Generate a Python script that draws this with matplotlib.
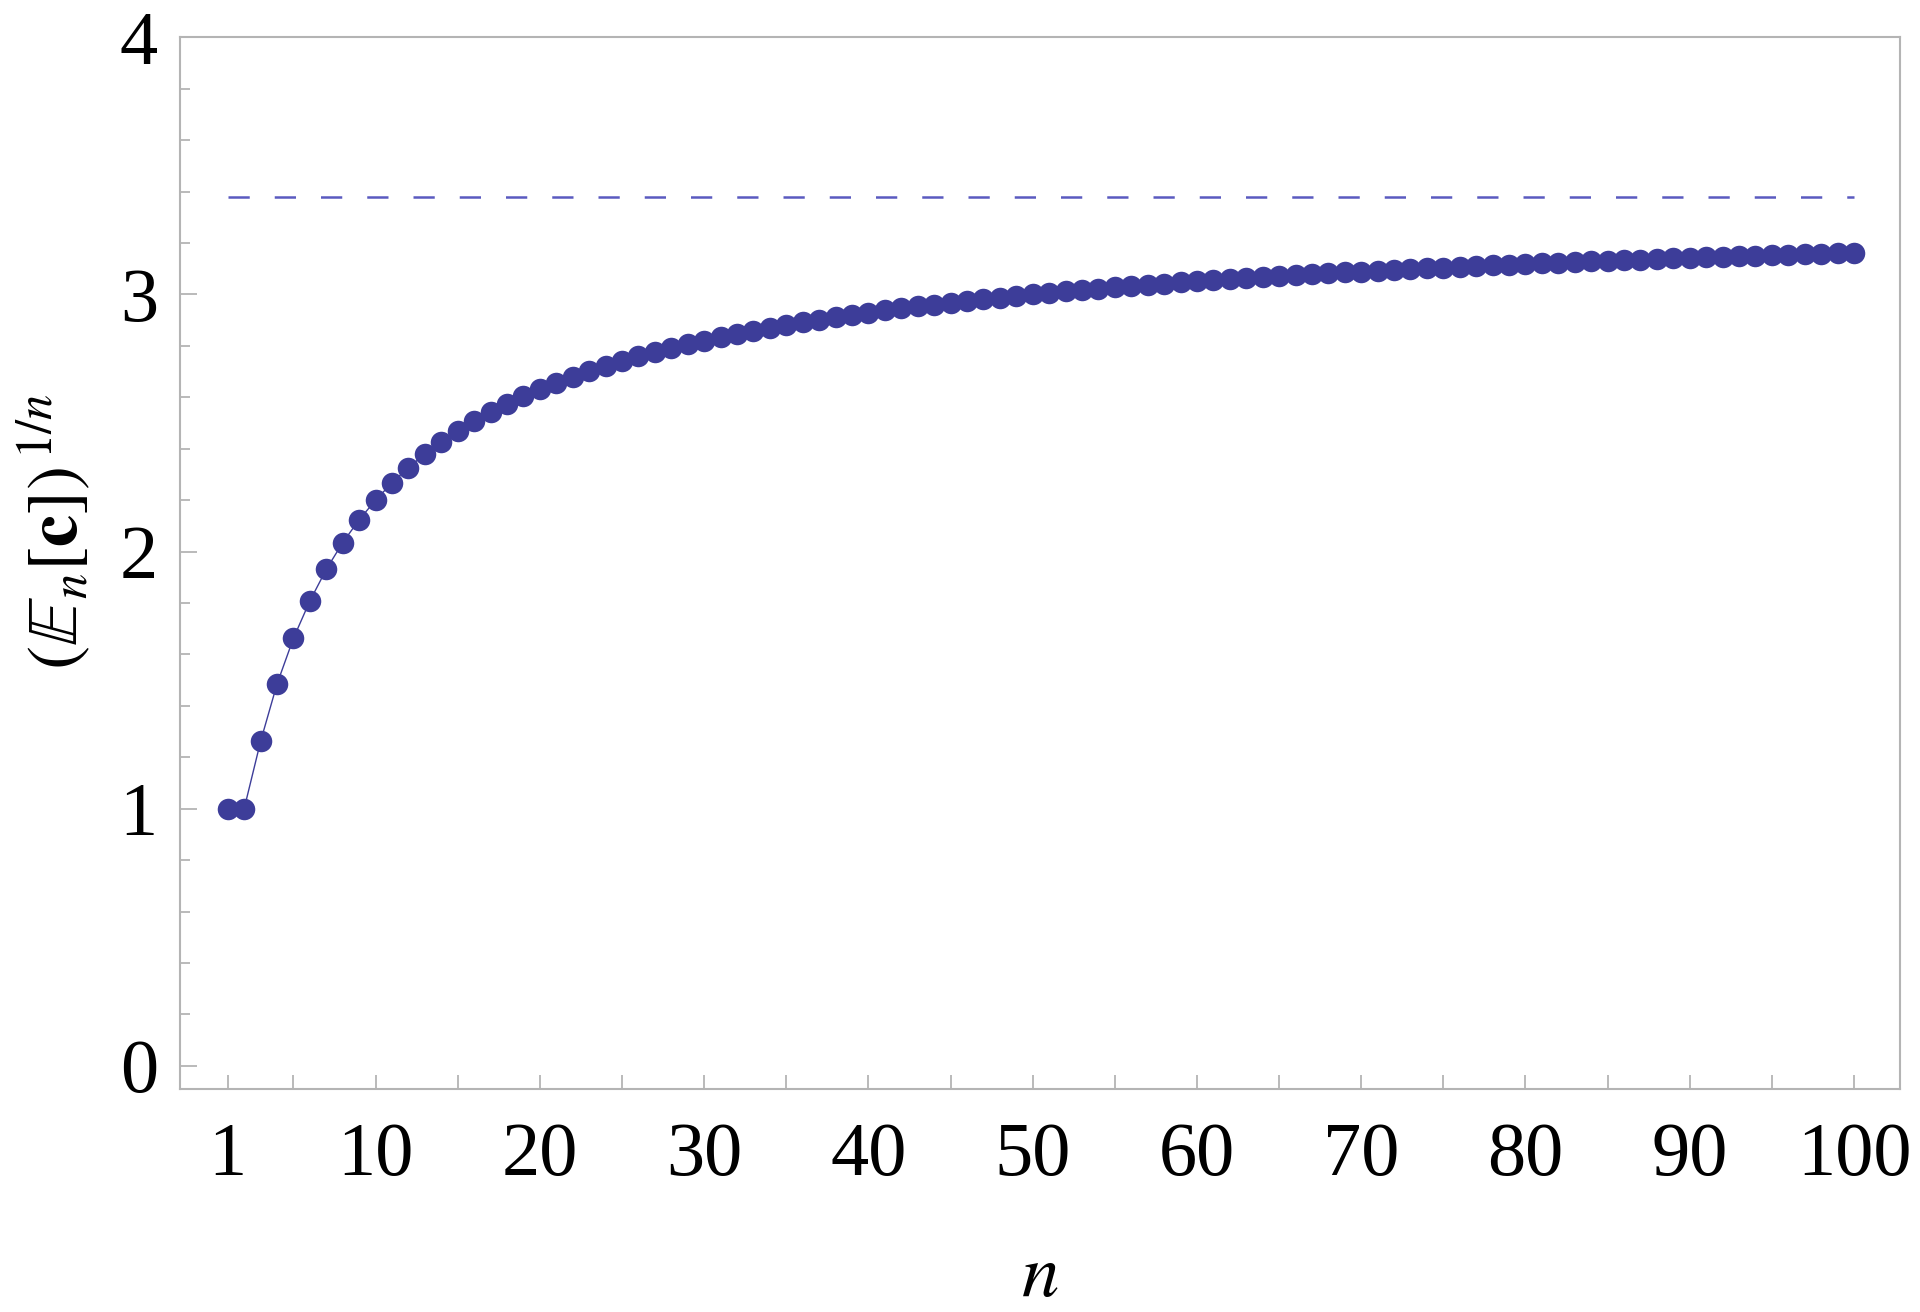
import numpy as np
import matplotlib.pyplot as plt
from matplotlib.ticker import FixedLocator, MultipleLocator

plt.rcParams['font.family'] = ['Liberation Serif', 'DejaVu Serif']
plt.rcParams['mathtext.fontset'] = 'stix'

# values
n = np.arange(1, 101)
values = [
    1.000, 1.000, 1.262, 1.485, 1.663, 1.808, 1.931, 2.035, 2.124, 2.200,
    2.268, 2.327, 2.379, 2.426, 2.469, 2.507, 2.542, 2.574, 2.604, 2.631,
    2.656, 2.680, 2.701, 2.722, 2.741, 2.759, 2.776, 2.791, 2.806, 2.821,
    2.834, 2.847, 2.859, 2.870, 2.881, 2.892, 2.902, 2.911, 2.921, 2.929,
    2.938, 2.946, 2.954, 2.961, 2.968, 2.975, 2.982, 2.988, 2.995, 3.001,
    3.006, 3.012, 3.017, 3.023, 3.028, 3.033, 3.038, 3.042, 3.047, 3.051,
    3.056, 3.060, 3.064, 3.068, 3.071, 3.075, 3.079, 3.082, 3.086, 3.089,
    3.093, 3.096, 3.099, 3.102, 3.105, 3.108, 3.111, 3.113, 3.116, 3.119,
    3.121, 3.124, 3.127, 3.129, 3.131, 3.134, 3.136, 3.138, 3.141, 3.143,
    3.145, 3.147, 3.149, 3.151, 3.153, 3.155, 3.157, 3.159, 3.161, 3.162,
]
limit = 3.381
xtick_labels = [1, 10, 20, 30, 40, 50, 60, 70, 80, 90, 100]

fig = plt.figure(figsize=(19.2, 13.12), dpi=100)
ax = fig.add_axes([0.0938, 0.170, 0.8958, 0.8015])

ax.plot([n[0], n[-1]], [limit, limit], color='#5a5ac0', lw=1.8,
        dashes=(8.5, 10))
ax.plot(n, values, color='#3d3d99', lw=1.0, marker='o', ms=15.5,
        markeredgewidth=0, zorder=3)

ax.set_xlim(-1.9, 102.8)
ax.set_ylim(-0.09, 4.0)

ax.xaxis.set_major_locator(FixedLocator(xtick_labels))
ax.xaxis.set_minor_locator(FixedLocator([5, 15, 25, 35, 45, 55, 65, 75, 85, 95]))
ax.set_xticklabels([str(v) for v in xtick_labels])
ax.yaxis.set_major_locator(MultipleLocator(1))
ax.yaxis.set_minor_locator(MultipleLocator(0.2))

frame_col = '#b4b4b4'
for s in ax.spines.values():
    s.set_color(frame_col)
    s.set_linewidth(1.5)

ax.tick_params(axis='both', which='both', direction='in', color=frame_col,
               width=1.3, top=False, right=False, labelsize=55)
ax.tick_params(axis='x', which='both', length=10, pad=24)
ax.tick_params(axis='y', which='major', length=12, pad=16)
ax.tick_params(axis='y', which='minor', length=7)

ax.set_xlabel(r'$n$', fontsize=54, labelpad=38)
ax.set_ylabel(r'$(\mathbb{E}_n[\mathbf{c}])^{\,1/n}$', fontsize=52)
ax.yaxis.set_label_coords(-0.05, 0.53)

fig.savefig('out.png', dpi=100)
